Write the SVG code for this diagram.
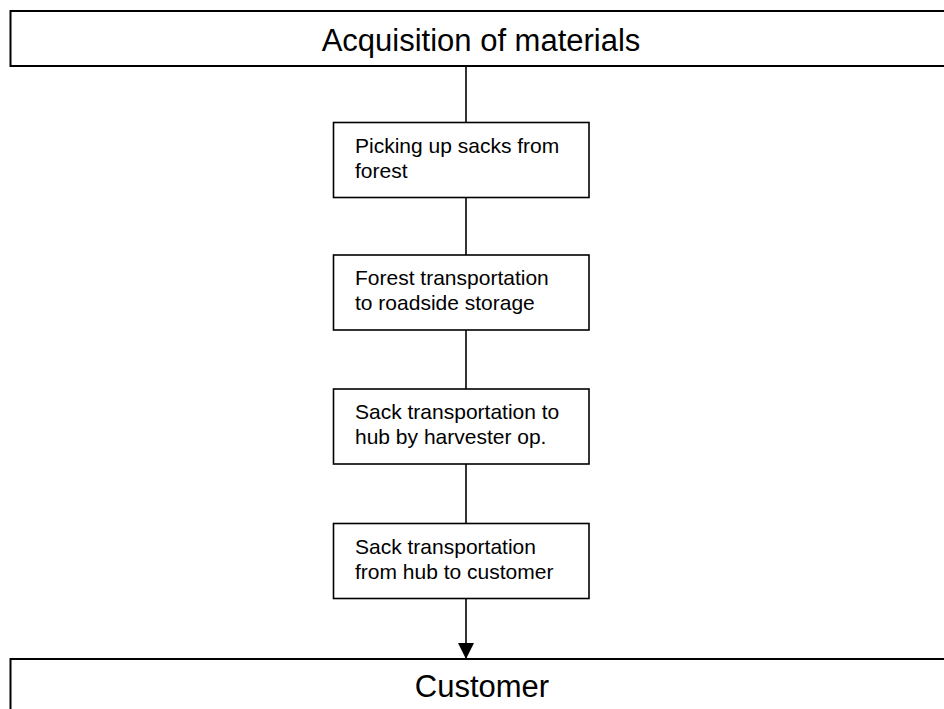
<svg xmlns="http://www.w3.org/2000/svg" width="944" height="709" viewBox="0 0 944 709">
  <style>
    .bar { fill: #ffffff; stroke: #000000; stroke-width: 2; }
    .step { fill: #ffffff; stroke: #000000; stroke-width: 1.6; }
    .big { font-family: "Liberation Sans", Arial, sans-serif; font-size: 31px; fill: #000000; text-anchor: middle; }
    .small { font-family: "Liberation Sans", Arial, sans-serif; font-size: 21px; fill: #000000; }
    .link { stroke: #000000; stroke-width: 1.6; fill: none; }
  </style>
  <defs>
    <marker id="arrow" markerWidth="16" markerHeight="16" refX="16" refY="8" orient="auto" markerUnits="userSpaceOnUse">
      <path d="M0,0 L16,8 L0,16 Z" fill="#000000"/>
    </marker>
  </defs>
  <rect width="944" height="709" fill="#ffffff"/>

  <g id="connectors">
    <line class="link" x1="466" y1="66" x2="466" y2="122.5"/>
    <line class="link" x1="466" y1="197.5" x2="466" y2="255"/>
    <line class="link" x1="466" y1="330" x2="466" y2="389"/>
    <line class="link" x1="466" y1="464" x2="466" y2="523.5"/>
    <line class="link" x1="466" y1="598.5" x2="466" y2="659" marker-end="url(#arrow)"/>
  </g>

  <g id="acquisition">
    <rect class="bar" x="10.5" y="11" width="945" height="55"/>
    <text class="big" x="481" y="51">Acquisition of materials</text>
  </g>

  <g id="picking">
    <rect class="step" x="333.5" y="122.5" width="255.5" height="75"/>
    <text class="small" x="355" y="153">Picking up sacks from</text>
    <text class="small" x="355" y="177.5">forest</text>
  </g>

  <g id="forest-transport">
    <rect class="step" x="333.5" y="255" width="255.5" height="75"/>
    <text class="small" x="355" y="285">Forest transportation</text>
    <text class="small" x="355" y="309.5">to roadside storage</text>
  </g>

  <g id="hub-transport">
    <rect class="step" x="333.5" y="389" width="255.5" height="75"/>
    <text class="small" x="355" y="419">Sack transportation to</text>
    <text class="small" x="355" y="443.5">hub by harvester op.</text>
  </g>

  <g id="customer-transport">
    <rect class="step" x="333.5" y="523.5" width="255.5" height="75"/>
    <text class="small" x="355" y="554">Sack transportation</text>
    <text class="small" x="355" y="578.5">from hub to customer</text>
  </g>

  <g id="customer">
    <rect class="bar" x="10.5" y="659" width="945" height="70"/>
    <text class="big" x="482" y="697">Customer</text>
  </g>
</svg>
